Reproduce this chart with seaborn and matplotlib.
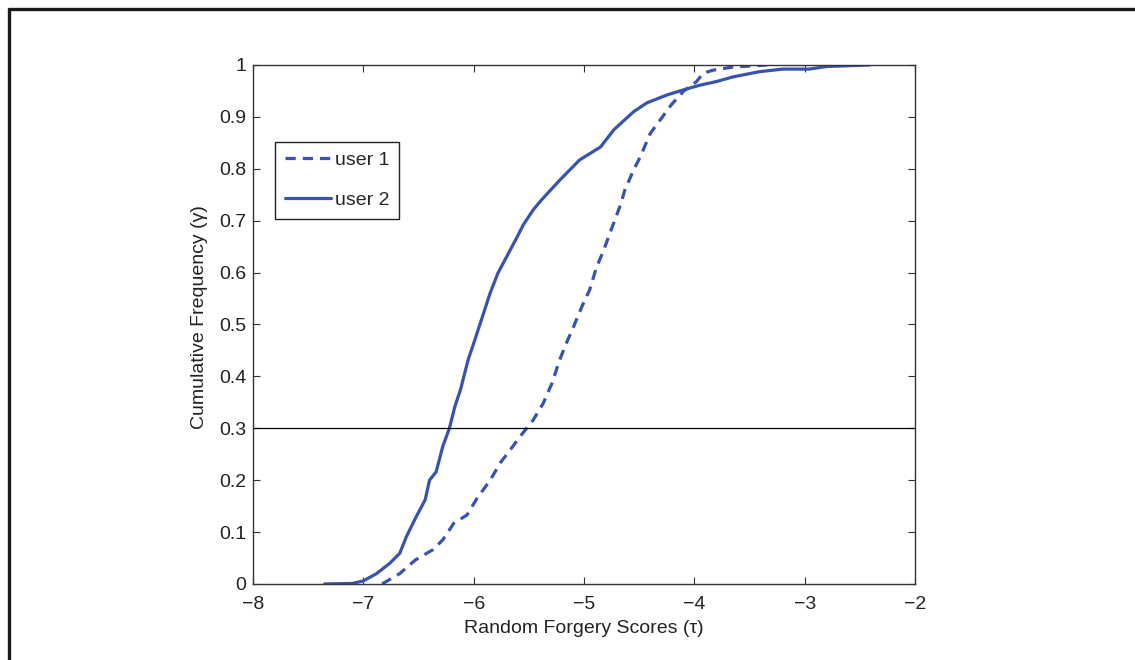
"""Cumulative frequency of random forgery scores for two users."""

import matplotlib.pyplot as plt
import pandas as pd
import seaborn as sns
from matplotlib.lines import Line2D

# ---------------------------------------------------------------------------
# Data
# ---------------------------------------------------------------------------

user1_score = [
    -6.83, -6.67, -6.53, -6.37, -6.28, -6.18, -6.06, -5.97, -5.85, -5.76,
    -5.67, -5.58, -5.46, -5.37, -5.29, -5.22, -5.16, -5.10, -5.02, -4.95,
    -4.89, -4.82, -4.76, -4.67, -4.63, -4.55, -4.49, -4.40, -4.31, -4.21,
    -4.10, -3.98, -3.92, -3.83, -3.65, -3.34,
]
user1_freq = [
    0.0, 0.020, 0.046, 0.066, 0.085, 0.117, 0.133, 0.165, 0.200, 0.233,
    0.258, 0.284, 0.316, 0.348, 0.387, 0.432, 0.464, 0.493, 0.534, 0.566,
    0.608, 0.644, 0.679, 0.730, 0.759, 0.798, 0.823, 0.868, 0.894, 0.923,
    0.949, 0.968, 0.984, 0.990, 0.996, 1.0,
]

user2_score = [
    -7.35, -7.10, -7.00, -6.88, -6.76, -6.67, -6.61, -6.52, -6.44, -6.40,
    -6.34, -6.28, -6.22, -6.17, -6.12, -6.05, -5.99, -5.93, -5.85, -5.78,
    -5.70, -5.61, -5.55, -5.46, -5.385, -5.22, -5.04, -4.85, -4.73, -4.55,
    -4.43, -4.25, -4.10, -3.95, -3.80, -3.65, -3.41, -3.20, -2.96, -2.80,
    -2.41,
]
user2_freq = [
    0.0, 0.001, 0.006, 0.020, 0.040, 0.059, 0.091, 0.130, 0.162, 0.200,
    0.216, 0.265, 0.300, 0.342, 0.374, 0.432, 0.470, 0.509, 0.561, 0.599,
    0.631, 0.667, 0.692, 0.721, 0.740, 0.778, 0.817, 0.842, 0.875, 0.910,
    0.927, 0.942, 0.952, 0.961, 0.968, 0.977, 0.987, 0.992, 0.992, 0.997,
    1.0,
]

threshold = 0.3
x_ticks = [-8, -7, -6, -5, -4, -3, -2]
y_ticks = [0, 0.1, 0.2, 0.3, 0.4, 0.5, 0.6, 0.7, 0.8, 0.9, 1]
y_tick_labels = ["0", "0.1", "0.2", "0.3", "0.4", "0.5", "0.6", "0.7", "0.8", "0.9", "1"]

_BLUE = "#3852b0"
_LW = 2.3
_FS = 14

sns.set_style("ticks")
plt.rcParams["font.family"] = ["Liberation Sans", "DejaVu Sans"]

fig = plt.figure(figsize=(11.35, 6.6), dpi=100)
ax = fig.add_axes([0.2229, 0.1152, 0.5833, 0.7864])

df1 = pd.DataFrame({"score": user1_score, "freq": user1_freq})
df2 = pd.DataFrame({"score": user2_score, "freq": user2_freq})

sns.lineplot(data=df1, x="score", y="freq", ax=ax, color=_BLUE, lw=_LW,
             linestyle=(0, (3.2, 2.2)), label="user 1", sort=False,
             estimator=None)
sns.lineplot(data=df2, x="score", y="freq", ax=ax, color=_BLUE, lw=_LW,
             label="user 2", sort=False, estimator=None)

ax.axhline(threshold, color="black", lw=0.9)

ax.set_xlim(-8, -2)
ax.set_ylim(0, 1)
ax.set_xticks(x_ticks)
ax.set_yticks(y_ticks)
ax.set_yticklabels(y_tick_labels)
ax.tick_params(direction="in", length=5, width=0.8, colors="#333333",
               labelcolor="#222222", labelsize=_FS, top=True, right=True)
ax.tick_params(axis="x", pad=9)
ax.tick_params(axis="y", pad=5)
for spine in ax.spines.values():
    spine.set_visible(True)
    spine.set_color("#333333")
    spine.set_linewidth(1.0)

ax.set_xlabel("Random Forgery Scores (τ)", fontsize=_FS, color="#222222",
              labelpad=5)
ax.set_ylabel("Cumulative Frequency (γ)", fontsize=_FS, color="#222222")
ax.yaxis.set_label_coords(-0.068, 0.515)

leg = ax.legend(loc="upper left", bbox_to_anchor=(0.033, 0.852),
                borderaxespad=0, fancybox=False, framealpha=1,
                edgecolor="#222222", fontsize=_FS, handlelength=2.4,
                handletextpad=0.2, borderpad=0.5, labelspacing=1.15)
leg.get_frame().set_linewidth(1.0)

# figure border (only top and left edges fall inside the picture)
fig.add_artist(Line2D([0.0075, 1.0], [0.987, 0.987], color="#1a1a1a",
                      lw=2.4, transform=fig.transFigure))
fig.add_artist(Line2D([0.0075, 0.0075], [0.0, 0.987], color="#1a1a1a",
                      lw=2.4, transform=fig.transFigure))

fig.savefig("out.png", dpi=100)
